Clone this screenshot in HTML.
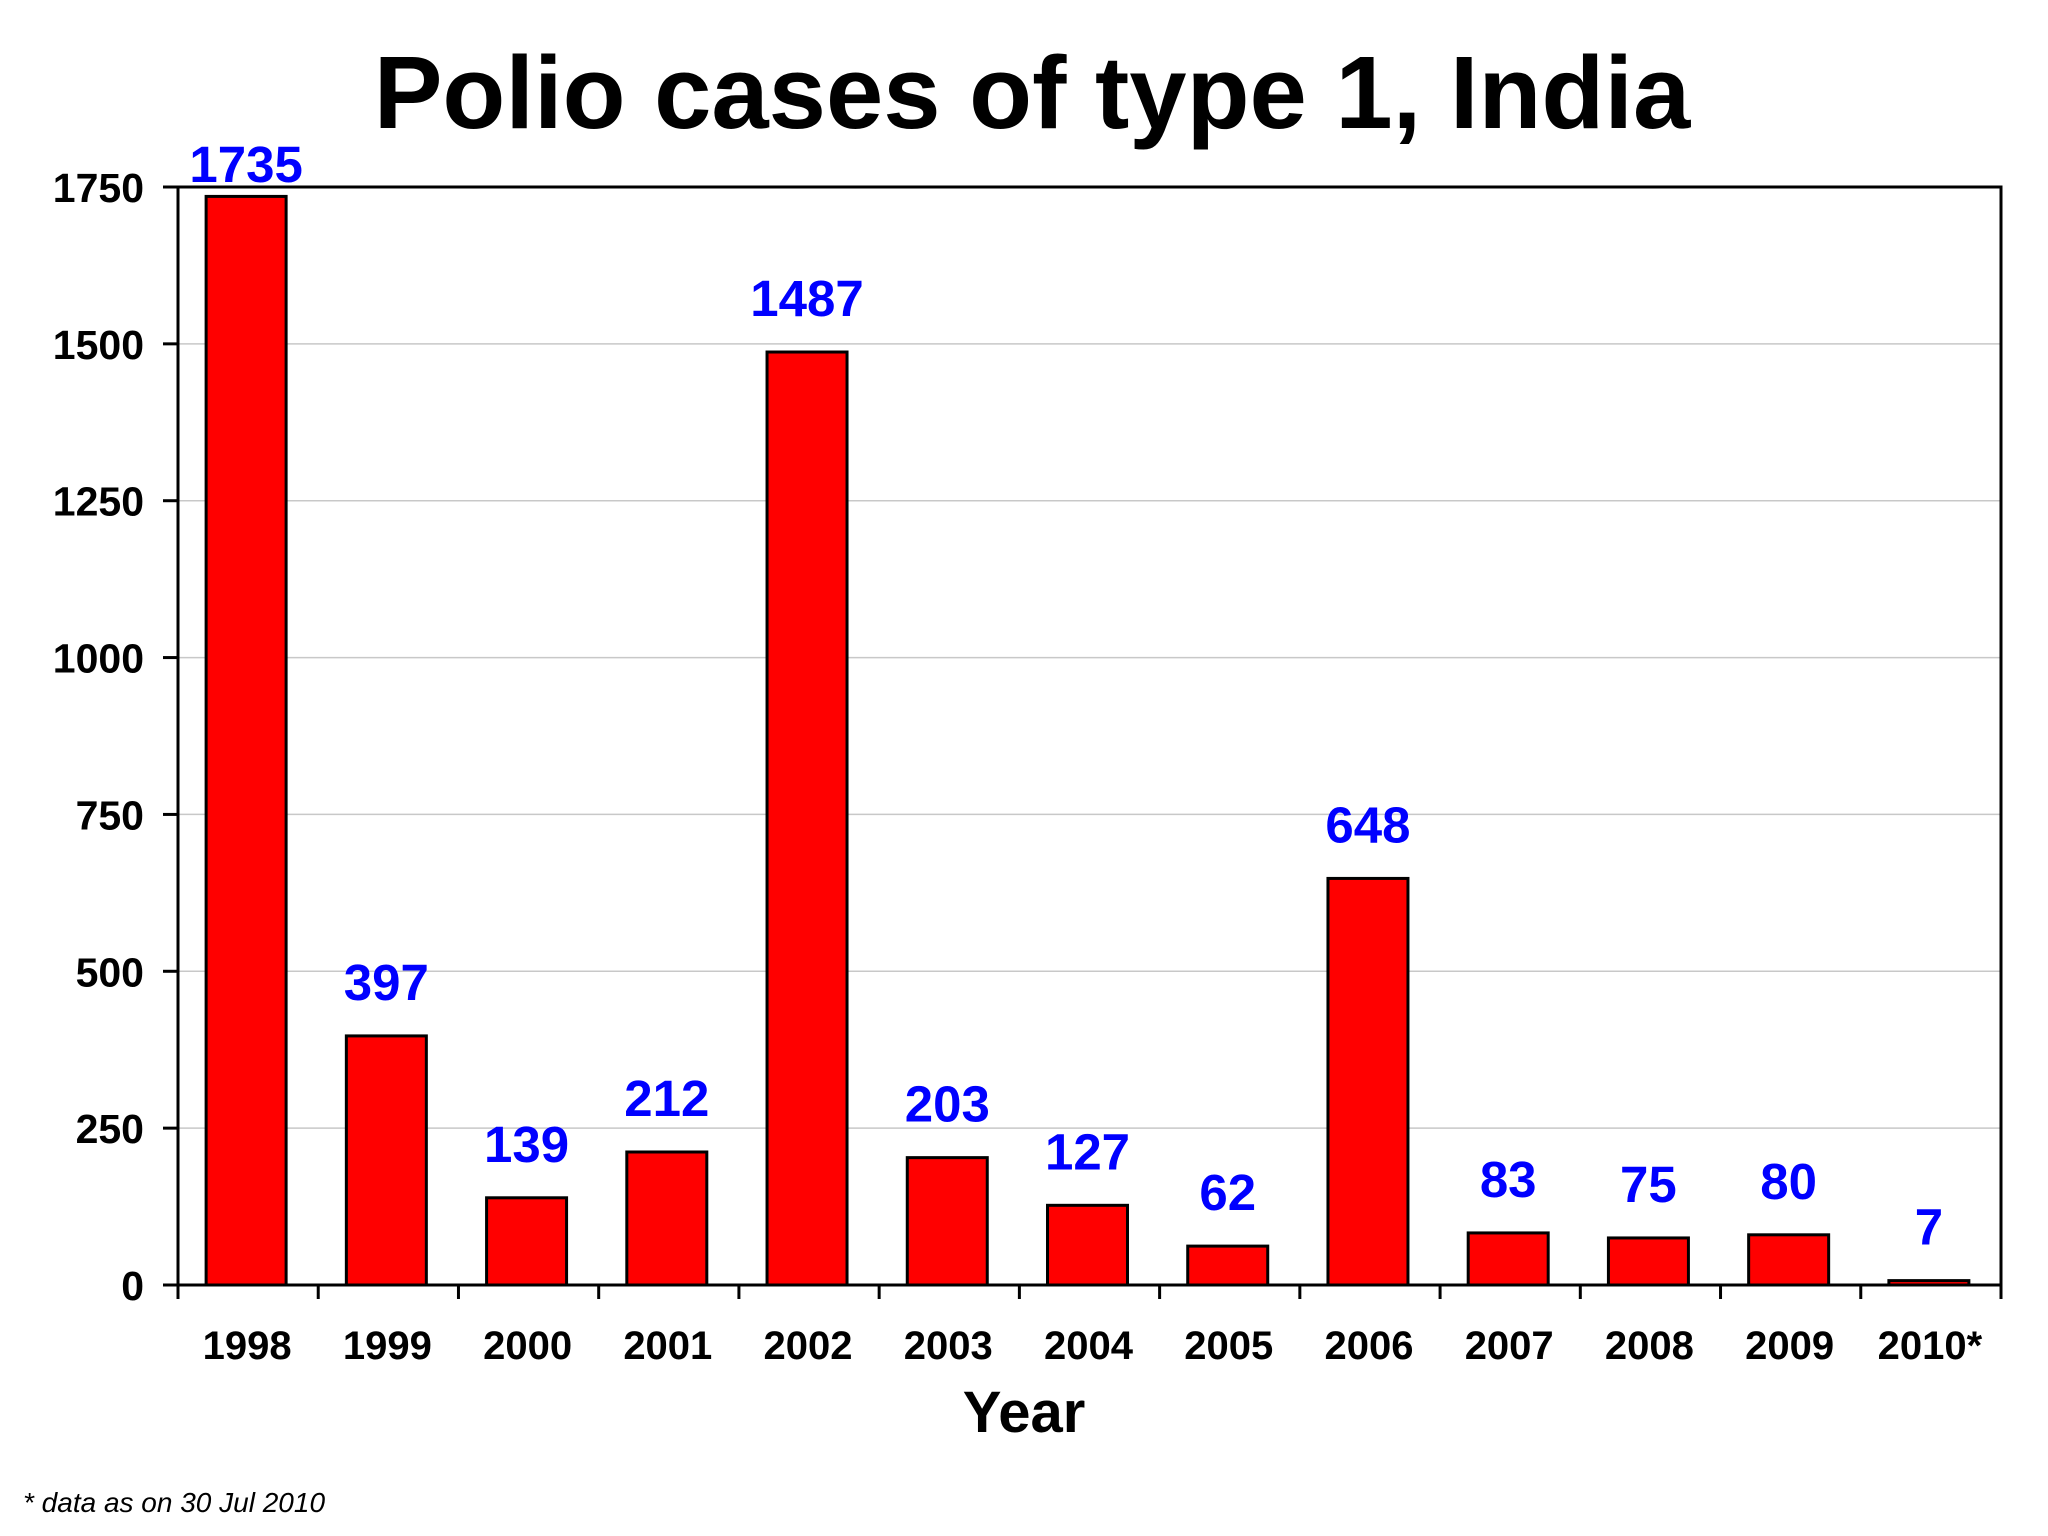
<!DOCTYPE html>
<html><head><meta charset="utf-8"><style>
body{margin:0;background:#fff;}
svg{display:block;font-family:"Liberation Sans",Arial,sans-serif;}
</style></head><body>
<svg id="chart" width="2048" height="1536" viewBox="0 0 2048 1536">
<text x="1032" y="128" text-anchor="middle" font-size="103" font-weight="bold">Polio cases of type 1, India</text>
<g id="grid"></g>
<g id="bars"></g>
<g id="axes"></g>
<text x="1024" y="1432" text-anchor="middle" font-size="58" font-weight="bold">Year</text>
<text x="23" y="1512" font-size="28" font-style="italic">* data as on 30 Jul 2010</text>
</svg>
<script>
const categories=["1998","1999","2000","2001","2002","2003","2004","2005","2006","2007","2008","2009","2010*"];
const cases=[1735,397,139,212,1487,203,127,62,648,83,75,80,7];
const yTicks=[0,250,500,750,1000,1250,1500,1750];
const L=178,R=2001,T=187,B=1285,YMAX=1750;
const ns="http://www.w3.org/2000/svg";
const y=v=>B-(v/YMAX)*(B-T);
const bw=(R-L)/categories.length;
const x=i=>L+bw*i;
function mk(tag,attrs,parent,text){const e=document.createElementNS(ns,tag);for(const k in attrs)e.setAttribute(k,attrs[k]);if(text!==undefined)e.textContent=text;parent.appendChild(e);return e;}
const grid=document.getElementById('grid'),bars=document.getElementById('bars'),axes=document.getElementById('axes');
yTicks.forEach(t=>{
  if(t>0&&t<YMAX){const g=mk('line',{x1:L,x2:R,y1:y(t),y2:y(t),stroke:'#c8c8c8','stroke-width':1.5},grid);
  
  }
  const tk=mk('line',{x1:L-15,x2:L,y1:y(t),y2:y(t),stroke:'#000','stroke-width':3},axes);
  
  
  const lb=mk('text',{x:144,y:y(t)+15,'text-anchor':'end','font-size':41,'font-weight':'bold'},axes,String(t));
  
  
});
categories.forEach((c,i)=>{
  const cx=x(i)+bw/2-2,v=cases[i];
  const r=mk('rect',{x:cx-40,y:y(v),width:80,height:B-y(v),fill:'#ff0000',stroke:'#000','stroke-width':3},bars);
  
  
  const vl=mk('text',{x:cx,y:Math.max(y(v)-36,182),'text-anchor':'middle','font-size':51,'font-weight':'bold',fill:'#0000ff'},bars,String(v));
  
  
  const xl=mk('text',{x:cx+1,y:1359,'text-anchor':'middle','font-size':40,'font-weight':'bold'},axes,c);
  
  
});
for(let i=0;i<=categories.length;i++){
  const tk=mk('line',{x1:x(i),x2:x(i),y1:B,y2:B+14,stroke:'#000','stroke-width':3},axes);
  
  
}
const fr=mk('rect',{x:L,y:T,width:R-L,height:B-T,fill:'none',stroke:'#000','stroke-width':3},axes);


</script>
</body></html>
